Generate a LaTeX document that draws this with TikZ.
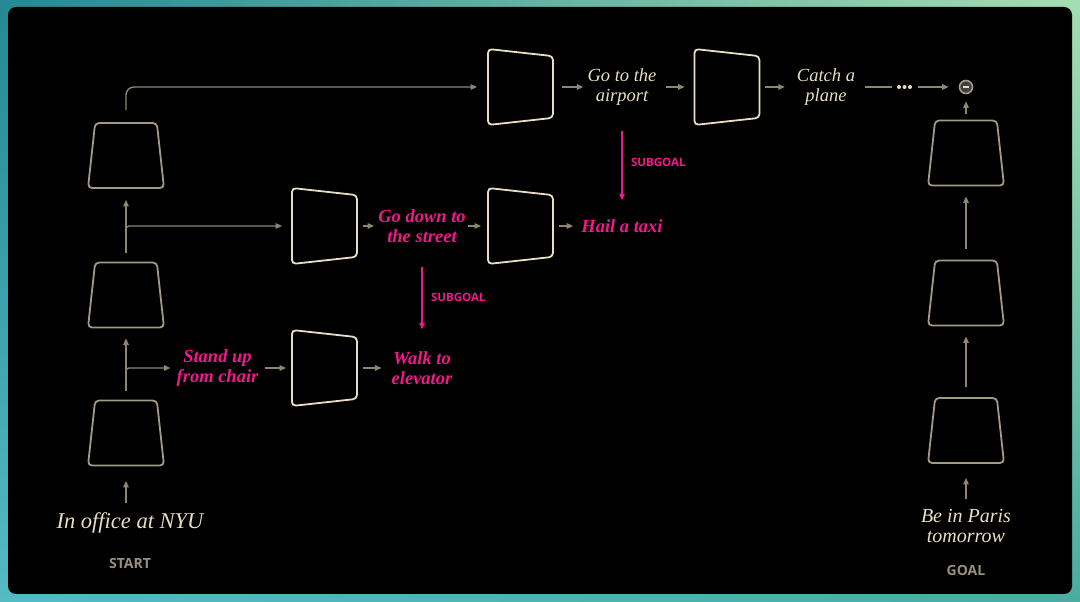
\documentclass[tikz,border=0pt]{standalone}
\usepackage{fontspec}
\setmainfont{Liberation Serif}
\setsansfont{Open Sans}
\usetikzlibrary{arrows.meta, shapes.geometric, shadings, positioning}

\definecolor{cream}{RGB}{232,222,195}
\definecolor{wirecol}{RGB}{142,134,114}
\definecolor{encgray}{RGB}{163,154,133}
\definecolor{hot}{RGB}{242,24,140}
\definecolor{taggray}{RGB}{152,144,124}
\definecolor{frameUL}{RGB}{36,136,148}
\definecolor{frameUR}{RGB}{165,222,178}
\definecolor{frameLL}{RGB}{84,186,196}
\definecolor{frameLR}{RGB}{72,172,160}

\begin{document}
\begin{tikzpicture}[x=1pt, y=1pt, node distance=100pt,
                    enc/.style= {trapezium,
                      draw=encgray,
                      line width=1.8pt,
                      trapezium left angle=83.4,
                      trapezium right angle=83.4,
                      trapezium stretches=true,
                      minimum width=76pt,
                      minimum height=65pt,
                      rounded corners=4pt,
                      inner sep=1pt},
                    henc/.style= {enc, draw=cream, shape border rotate=270},
                    state/.style= {align=center, inner sep=1pt, text=cream,
                      font=\itshape\fontsize{18.5}{20}\selectfont},
                    sub/.style= {state, text=hot,
                      font=\bfseries\itshape\fontsize{18.5}{20}\selectfont},
                    ends/.style= {state, font=\itshape\fontsize{22.5}{22}\selectfont},
                    tag/.style= {text=taggray, font=\sffamily\bfseries\fontsize{14}{14}\selectfont},
                    subtag/.style= {text=hot, font=\sffamily\bfseries\fontsize{11.5}{12}\selectfont},
                    wire/.style= {draw=wirecol, line width=1.4pt,
                      -{Triangle[length=6.5pt, width=5.5pt]}},
                    down/.style= {draw=hot, line width=1.5pt,
                      -{Triangle[length=6.5pt, width=5.5pt]}},
                    target/.style= {circle, draw=encgray, fill=black!75,
                      line width=1.6pt, minimum size=13pt, inner sep=0pt}]

  % frame
  \shade[upper left=frameUL, upper right=frameUR,
         lower left=frameLL, lower right=frameLR]
        (0,0) rectangle (1080,602);
  \useasboundingbox (0,0) rectangle (1080,602);
  \fill[black, rounded corners=8pt] (8,8) rectangle (1072,595);

  % start column
  \node[enc] (l1) at (126,169) {};
  \node[enc] (l2) [above of=l1, yshift=38pt] {};
  \node[enc] (l3) [above of=l2, yshift=39.5pt] {};
  \node[ends] (start) at (130,79) {In office at NYU};
  \node[tag] (startlbl) [below of=start, yshift=59pt] {START};

  % goal column
  \node[enc] (r1) at (966,171.5) {};
  \node[enc] (r2) [above of=r1, yshift=37.5pt] {};
  \node[enc] (r3) [above of=r2, yshift=40pt] {};
  \node[ends, font=\itshape\fontsize{20}{20.5}\selectfont] (paris) at (966,76) {Be in Paris\\tomorrow};
  \node[tag] (goallbl) [below of=paris, yshift=56pt] {GOAL};
  \node[target] (end) [above of=r3, yshift=-34pt] {};
  \draw[cream, line width=1.5pt] ([xshift=-3pt]end.center) -- ([xshift=3pt]end.center);

  % top row
  \node[henc] (t1) at (520.5,515) {};
  \node[state] (air) [right of=t1, xshift=1.5pt] {Go to the\\airport};
  \node[henc] (t2) [right of=air, xshift=5pt] {};
  \node[state] (plane) [right of=t2, xshift=-1pt] {Catch a\\plane};
  \node[minimum width=20pt, inner sep=0pt] (more) [right of=plane, xshift=-21.5pt] {};
  \fill[cream] (more.center) circle (2pt)
               ([xshift=-5.5pt]more.center) circle (2pt)
               ([xshift=5.5pt]more.center) circle (2pt);

  % middle row
  \node[henc] (m1) at (324.5,376) {};
  \node[sub] (street) [right of=m1, xshift=-2.5pt] {Go down to\\the street};
  \node[henc] (m2) [right of=street, xshift=-1.5pt] {};
  \node[sub] (taxi) [right of=m2, xshift=1.5pt] {Hail a taxi};

  % bottom row
  \node[henc] (b1) at (324.5,234) {};
  \node[sub] (chair) [left of=b1, xshift=-7pt] {Stand up\\from chair};
  \node[sub] (walk) [right of=b1, xshift=-2.5pt] {Walk to\\elevator};

  % columns
  \draw[wire] ([yshift=8pt]start.north -| l1) -- ([yshift=-14.5pt]l1.south);
  \draw[wire] ([yshift=9pt]l1.north) -- ([yshift=-10pt]l2.south);
  \draw[wire] ([yshift=9pt]l2.north) -- ([yshift=-11pt]l3.south);
  \draw[wire, rounded corners=3pt, shorten >=5pt] ([yshift=9pt]l1.north) |- (chair.west);
  \draw[wire, rounded corners=3pt, shorten >=9pt] ([yshift=9pt]l2.north) |- (m1.west);
  \draw[wire, rounded corners=8pt, shorten >=10pt] ([yshift=12pt]l3.north) |- (t1.west);

  \draw[wire] ([yshift=9pt]paris.north) -- ([yshift=-14pt]r1.south);
  \draw[wire] ([yshift=10pt]r1.north) -- ([yshift=-10pt]r2.south);
  \draw[wire] ([yshift=11pt]r2.north) -- ([yshift=-10pt]r3.south);
  \draw[wire, shorten <=5.5pt, shorten >=7pt] (r3) -- (end);

  % rows
  \draw[wire, shorten <=8pt, shorten >=3pt] (t1) -- (air);
  \draw[wire, shorten <=8pt, shorten >=9pt] (air) -- (t2);
  \draw[wire, shorten <=5pt, shorten >=11pt] (t2) -- (plane);
  \draw[wire, -, shorten <=9pt, shorten >=2.5pt] (plane) -- (more);
  \draw[wire, shorten <=3.5pt, shorten >=10pt] (more) -- (end);

  \draw[wire, shorten <=5pt, shorten >=3pt] (m1) -- (street);
  \draw[wire, shorten <=1pt, shorten >=6pt] (street) -- (m2);
  \draw[wire, shorten <=5pt, shorten >=7pt] (m2) -- (taxi);

  \draw[wire, shorten <=5pt, shorten >=5pt] (chair) -- (b1);
  \draw[wire, shorten <=5pt, shorten >=9pt] (b1) -- (walk);

  % subgoals
  \draw[down, shorten <=24pt, shorten >=18pt] (air) -- node[subtag, right=5pt] {SUBGOAL} (taxi);
  \draw[down, shorten <=23pt, shorten >=21pt] (street) -- node[subtag, right=5pt] {SUBGOAL} (walk);
\end{tikzpicture}
\end{document}
